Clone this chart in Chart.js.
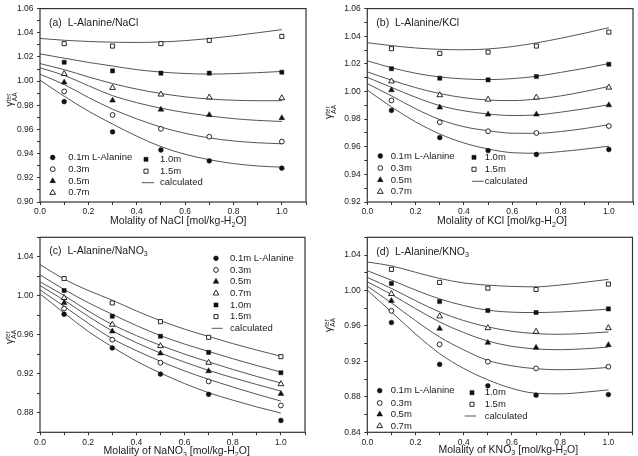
<!DOCTYPE html>
<html><head><meta charset="utf-8">
<script src="https://cdn.jsdelivr.net/npm/chart.js@4/dist/chart.umd.min.js"></script>
<style>
html,body{margin:0;padding:0;background:#fff;}
body{width:638px;height:456px;position:relative;overflow:hidden;}
.p{position:absolute;}
</style></head><body>
<div class="p" style="left:0;top:0;width:318px;height:228px"><canvas id="ca"></canvas></div>
<div class="p" style="left:318px;top:0;width:320px;height:228px"><canvas id="cb"></canvas></div>
<div class="p" style="left:0;top:228px;width:318px;height:228px"><canvas id="cc"></canvas></div>
<div class="p" style="left:318px;top:228px;width:320px;height:228px"><canvas id="cd"></canvas></div>
<script>
// ---------- data ----------
const molalities = [0.1, 0.3, 0.5, 0.7, 1.0];
const curveX = [0, 0.1, 0.2, 0.3, 0.4, 0.5, 0.6, 0.7, 0.8, 0.9, 1.0];
const seriesNames = ['0.1m L-Alanine', '0.3m', '0.5m', '0.7m', '1.0m', '1.5m'];
const calcName = 'calculated';

// (a) NaCl
const naclExp = [
  [0.983, 0.958, 0.943, 0.934, 0.928],
  [0.9915, 0.972, 0.9605, 0.954, 0.950],
  [0.999, 0.984, 0.9765, 0.972, 0.9695],
  [1.006, 0.9945, 0.989, 0.9866, 0.986],
  [1.0156, 1.0085, 1.0066, 1.0066, 1.0074],
  [1.031, 1.029, 1.031, 1.0337, 1.037]
];
const naclCalc = [
  [1.0008, 0.9875, 0.9752, 0.9645, 0.9545, 0.9458, 0.9395, 0.935, 0.9318, 0.9298, 0.9288],
  [1.0057, 0.9972, 0.9865, 0.9768, 0.9688, 0.962, 0.9568, 0.953, 0.9505, 0.949, 0.9482],
  [1.011, 1.0048, 0.9962, 0.988, 0.9822, 0.9776, 0.974, 0.9712, 0.969, 0.9675, 0.9666],
  [1.0145, 1.0095, 1.0035, 0.998, 0.9934, 0.9898, 0.987, 0.9852, 0.9842, 0.9838, 0.9838],
  [1.0225, 1.019, 1.0155, 1.0125, 1.0095, 1.0075, 1.0063, 1.0058, 1.0062, 1.007, 1.008],
  [1.0353, 1.0338, 1.0328, 1.0322, 1.032, 1.0324, 1.0335, 1.0352, 1.0375, 1.04, 1.0426]
];
// (b) KCl
const kclExp = [
  [0.9863, 0.9666, 0.9572, 0.9544, 0.958],
  [0.9935, 0.9777, 0.9712, 0.970, 0.975],
  [1.001, 0.9885, 0.9834, 0.9834, 0.9901],
  [1.0074, 0.9974, 0.9942, 0.9957, 1.0029],
  [1.0165, 1.0096, 1.0084, 1.0108, 1.0197],
  [1.031, 1.0276, 1.0285, 1.0329, 1.043]
];
const kclCalc = [
  [1.001, 0.9888, 0.978, 0.9692, 0.9627, 0.9584, 0.9557, 0.9553, 0.9565, 0.9583, 0.9604],
  [1.0057, 0.9968, 0.9875, 0.9797, 0.9745, 0.9716, 0.9698, 0.9697, 0.971, 0.9732, 0.976],
  [1.0102, 1.003, 0.9958, 0.9898, 0.986, 0.9837, 0.9826, 0.983, 0.985, 0.9875, 0.9904],
  [1.0142, 1.0082, 1.0028, 0.9985, 0.9955, 0.9938, 0.9934, 0.9945, 0.9968, 1.0, 1.0036],
  [1.0222, 1.0172, 1.0132, 1.0105, 1.0091, 1.0086, 1.0093, 1.011, 1.0138, 1.0168, 1.0202],
  [1.0353, 1.0332, 1.0315, 1.0305, 1.0302, 1.0308, 1.0325, 1.0352, 1.0385, 1.0422, 1.0462]
];
// (c) NaNO3
const nano3Exp = [
  [0.9811, 0.9465, 0.9197, 0.8989, 0.8721],
  [0.9869, 0.955, 0.9314, 0.9122, 0.8875],
  [0.9927, 0.9636, 0.941, 0.9228, 0.8995],
  [0.9979, 0.9705, 0.9485, 0.9314, 0.9095],
  [1.0054, 0.979, 0.9585, 0.942, 0.9211],
  [1.0177, 0.9927, 0.9735, 0.9574, 0.9376]
];
const nano3Calc = [
  [1.002, 0.9824, 0.9635, 0.9475, 0.933, 0.9208, 0.91, 0.9006, 0.893, 0.886, 0.8797],
  [1.006, 0.9893, 0.9718, 0.956, 0.9438, 0.9328, 0.923, 0.9143, 0.9065, 0.899, 0.892],
  [1.0105, 0.9955, 0.979, 0.964, 0.952, 0.9413, 0.932, 0.9235, 0.916, 0.909, 0.9023],
  [1.0143, 1.0003, 0.9845, 0.9705, 0.9592, 0.9492, 0.9402, 0.9322, 0.9245, 0.9173, 0.9105],
  [1.0215, 1.0065, 0.993, 0.981, 0.9695, 0.9592, 0.9505, 0.943, 0.9355, 0.9285, 0.9218],
  [1.032, 1.0172, 1.0055, 0.9955, 0.9845, 0.9745, 0.9658, 0.9583, 0.951, 0.9443, 0.938]
];
// (d) KNO3
const kno3Exp = [
  [0.9638, 0.9166, 0.8924, 0.8819, 0.8826],
  [0.977, 0.9392, 0.9196, 0.9121, 0.914],
  [0.9883, 0.957, 0.9411, 0.9355, 0.9385],
  [0.9962, 0.9709, 0.9577, 0.9536, 0.9577],
  [1.0079, 0.9875, 0.9774, 0.9751, 0.9792],
  [1.0238, 1.0091, 1.0026, 1.0011, 1.0072]
];
const kno3Calc = [
  [1.0004, 0.9758, 0.951, 0.9287, 0.912, 0.8992, 0.8895, 0.884, 0.8834, 0.8852, 0.8879],
  [1.0049, 0.986, 0.966, 0.9475, 0.933, 0.9211, 0.915, 0.9117, 0.9106, 0.9113, 0.9132],
  [1.0098, 0.9955, 0.9795, 0.9645, 0.9525, 0.943, 0.937, 0.934, 0.9332, 0.9342, 0.9362],
  [1.0147, 1.0023, 0.9885, 0.9758, 0.966, 0.9589, 0.954, 0.9513, 0.9506, 0.9515, 0.9532],
  [1.0223, 1.0117, 1.0005, 0.9905, 0.983, 0.9777, 0.9755, 0.9751, 0.9758, 0.9772, 0.9789],
  [1.0321, 1.0278, 1.0205, 1.0136, 1.0085, 1.006, 1.0046, 1.0041, 1.0062, 1.0092, 1.0125]
];

// ---------- style ----------
const FONT = '"Liberation Sans", Arial, Helvetica, sans-serif';
const INK = '#1a1a1a';
const styles = ['circle', 'circle', 'triangle', 'triangle', 'rect', 'rect'];
const filled = [true, false, true, false, true, false];
const radii = [2.4, 2.4, 3.3, 3.3, 2.9, 2.9];
Chart.defaults.font.family = FONT;

function richSegments(str) {
  // "_3" -> subscript 3
  const segs = [];
  const re = /_(\w)/g; let last = 0, m;
  while ((m = re.exec(str)) !== null) {
    if (m.index > last) segs.push({ t: str.slice(last, m.index), sub: false });
    segs.push({ t: m[1], sub: true });
    last = re.lastIndex;
  }
  if (last < str.length) segs.push({ t: str.slice(last), sub: false });
  return segs;
}
function drawRich(ctx, str, x, y, size, align) {
  const segs = richSegments(str);
  let total = 0;
  segs.forEach(s => { ctx.font = (s.sub ? size * 0.68 : size) + 'px ' + FONT; s.w = ctx.measureText(s.t).width; total += s.w; });
  let cx = align === 'center' ? x - total / 2 : x;
  ctx.textAlign = 'left'; ctx.textBaseline = 'middle';
  segs.forEach(s => {
    ctx.font = (s.sub ? size * 0.68 : size) + 'px ' + FONT;
    ctx.fillText(s.t, cx, s.sub ? y + size * 0.32 : y);
    cx += s.w;
  });
}
function drawMarker(ctx, i, x, y) {
  const r = radii[i];
  ctx.beginPath();
  if (styles[i] === 'circle') ctx.arc(x, y, r, 0, Math.PI * 2);
  else if (styles[i] === 'triangle') {
    let a = 0;
    ctx.moveTo(x + Math.sin(a) * r, y - Math.cos(a) * r);
    a += 2 * Math.PI / 3; ctx.lineTo(x + Math.sin(a) * r, y - Math.cos(a) * r);
    a += 2 * Math.PI / 3; ctx.lineTo(x + Math.sin(a) * r, y - Math.cos(a) * r);
    ctx.closePath();
  } else { const s = Math.SQRT1_2 * r; ctx.rect(x - s, y - s, 2 * s, 2 * s); }
  ctx.fillStyle = filled[i] ? '#111' : '#fff';
  ctx.fill();
  ctx.lineWidth = filled[i] ? 0.5 : 0.9; ctx.strokeStyle = '#111'; ctx.stroke();
}
function drawGamma(ctx, x, y) {
  ctx.save(); ctx.translate(x, y); ctx.rotate(-Math.PI / 2);
  ctx.fillStyle = INK; ctx.textAlign = 'left'; ctx.textBaseline = 'alphabetic';
  ctx.font = '10px ' + FONT; ctx.fillText('γ', 0, 0);
  const w = ctx.measureText('γ').width;
  ctx.font = '6.5px ' + FONT;
  ctx.fillText('ter', w + 0.3, -2.5);
  ctx.fillText('AA', w + 0.3, 3.6);
  ctx.restore();
}

const deco = {
  id: 'deco',
  afterDraw(chart, args, o) {
    const ctx = chart.ctx, ca = chart.chartArea;
    ctx.save();
    ctx.strokeStyle = '#333'; ctx.lineWidth = 1.2;
    ctx.strokeRect(ca.left, ca.top, ca.right - ca.left, ca.bottom - ca.top);
    ctx.fillStyle = INK;
    drawRich(ctx, o.title, o.titleX, o.titleY, 10.5, 'left');
    drawRich(ctx, o.xTitle, o.xTitleX, o.xTitleY, 10.5, 'center');
    drawGamma(ctx, o.gX, o.gY);
    // legend
    o.legend.forEach(item => {
      if (item.calc) {
        ctx.strokeStyle = '#555'; ctx.lineWidth = 1;
        ctx.beginPath(); ctx.moveTo(item.l1, item.y); ctx.lineTo(item.l2, item.y); ctx.stroke();
        ctx.fillStyle = INK; ctx.font = '9.5px ' + FONT; ctx.textAlign = 'left'; ctx.textBaseline = 'middle';
        ctx.fillText(calcName, item.tx, item.y);
      } else {
        drawMarker(ctx, item.i, item.sx, item.y);
        ctx.fillStyle = INK; ctx.font = '9.5px ' + FONT; ctx.textAlign = 'left'; ctx.textBaseline = 'middle';
        ctx.fillText(seriesNames[item.i], item.tx, item.y);
      }
    });
    ctx.restore();
  }
};

function buildDatasets(points, curves) {
  const ds = [];
  curves.forEach(c => ds.push({
    data: curveX.map((x, j) => ({ x: x, y: c[j] })),
    borderColor: '#555', borderWidth: 1, pointRadius: 0, cubicInterpolationMode: 'monotone',
    fill: false, order: 2
  }));
  points.forEach((p, i) => ds.push({
    showLine: false,
    data: molalities.map((x, j) => ({ x: x, y: p[j] })),
    pointStyle: styles[i], pointRadius: radii[i],
    backgroundColor: filled[i] ? '#111' : '#fff', borderColor: '#111',
    borderWidth: filled[i] ? 0.5 : 0.9, order: 1
  }));
  return ds;
}

function makeChart(id, points, curves, cfg) {
  new Chart(document.getElementById(id), {
    type: 'line',
    data: { datasets: buildDatasets(points, curves) },
    options: {
      responsive: true, maintainAspectRatio: false, animation: false, events: [],
      layout: { padding: cfg.pad },
      scales: {
        x: {
          type: 'linear', min: 0, max: 1.1,
          afterFit(s) { s.height = cfg.xh; },
          border: { display: false },
          grid: { display: true, drawOnChartArea: false, drawTicks: true, tickLength: 3, color: '#333' },
          ticks: {
            stepSize: 0.1, autoSkip: false, maxRotation: 0, padding: 2, color: INK, font: { size: 8.5 },
            callback: v => (Math.round(v * 10) % 2 === 0 && v < 1.05) ? v.toFixed(1) : ''
          }
        },
        y: {
          type: 'linear', min: cfg.ymin, max: cfg.ymax,
          afterFit(s) { s.width = cfg.yw; },
          border: { display: false },
          grid: { display: true, drawOnChartArea: false, drawTicks: true, tickLength: 3, color: '#333' },
          ticks: {
            stepSize: cfg.ystep, autoSkip: false, padding: 3.5, color: INK, font: { size: 8.5 },
            callback: v => (Math.round(v * 100) % cfg.ylab === 0) ? v.toFixed(2) : ''
          }
        }
      },
      plugins: { legend: { display: false }, tooltip: { enabled: false }, deco: cfg.deco }
    },
    plugins: [deco]
  });
}

function twoColLegend(sx1, tx1, ys1, sx2, tx2, ys2, l1, l2) {
  const L = [];
  for (let i = 0; i < 4; i++) L.push({ i: i, sx: sx1, tx: tx1, y: ys1[i] });
  L.push({ i: 4, sx: sx2, tx: tx2, y: ys2[0] });
  L.push({ i: 5, sx: sx2, tx: tx2, y: ys2[1] });
  L.push({ calc: true, l1: l1, l2: l2, tx: tx2, y: ys2[2] });
  return L;
}

makeChart('ca', naclExp, naclCalc, {
  pad: { left: 0, right: 12, top: 7, bottom: 0 }, xh: 26, yw: 40,
  ymin: 0.90, ymax: 1.06, ystep: 0.01, ylab: 2,
  deco: {
    title: '(a)  L-Alanine/NaCl', titleX: 49, titleY: 23,
    xTitle: 'Molality of NaCl [mol/kg-H_2O]', xTitleX: 178.3, xTitleY: 221.5,
    gX: 13, gY: 106.5,
    legend: twoColLegend(52.7, 68.3, [157.5, 169.2, 181, 192.7], 146, 160, [159.3, 171.2, 182.7], 141.7, 154)
  }
});
makeChart('cb', kclExp, kclCalc, {
  pad: { left: 0, right: 5, top: 7, bottom: 0 }, xh: 26, yw: 49.3,
  ymin: 0.92, ymax: 1.06, ystep: 0.01, ylab: 2,
  deco: {
    title: '(b)  L-Alanine/KCl', titleX: 58.3, titleY: 23.3,
    xTitle: 'Molality of KCl [mol/kg-H_2O]', xTitleX: 184, xTitleY: 221.5,
    gX: 14, gY: 119,
    legend: twoColLegend(62.3, 72.7, [156, 168, 180, 191.7], 156, 166.7, [157.3, 169.3, 181.3], 154, 165.7)
  }
});
makeChart('cc', nano3Exp, nano3Calc, {
  pad: { left: 0, right: 13, top: 9.3, bottom: 0 }, xh: 23.7, yw: 40,
  ymin: 0.86, ymax: 1.06, ystep: 0.02, ylab: 4,
  deco: {
    title: '(c)  L-Alanine/NaNO_3', titleX: 49.3, titleY: 23,
    xTitle: 'Molality of NaNO_3 [mol/kg-H_2O]', xTitleX: 176.7, xTitleY: 223.5,
    gX: 12.5, gY: 116,
    legend: [0, 1, 2, 3, 4, 5].map(i => ({ i: i, sx: 216, tx: 230, y: 30.3 + i * 11.67 }))
      .concat([{ calc: true, l1: 211.7, l2: 222.7, tx: 230, y: 100.3 }])
  }
});
makeChart('cd', kno3Exp, kno3Calc, {
  pad: { left: 0, right: 5.5, top: 9.3, bottom: 0 }, xh: 23.7, yw: 49.3,
  ymin: 0.84, ymax: 1.06, ystep: 0.02, ylab: 4,
  deco: {
    title: '(d)  L-Alanine/KNO_3', titleX: 58.3, titleY: 23.7,
    xTitle: 'Molality of KNO_3 [mol/kg-H_2O]', xTitleX: 190.3, xTitleY: 222,
    gX: 13.5, gY: 104,
    legend: twoColLegend(61.7, 72.7, [162.7, 175, 186.3, 198], 154, 166.7, [164.7, 176.3, 188], 146.7, 158.3)
  }
});
</script>
</body></html>
